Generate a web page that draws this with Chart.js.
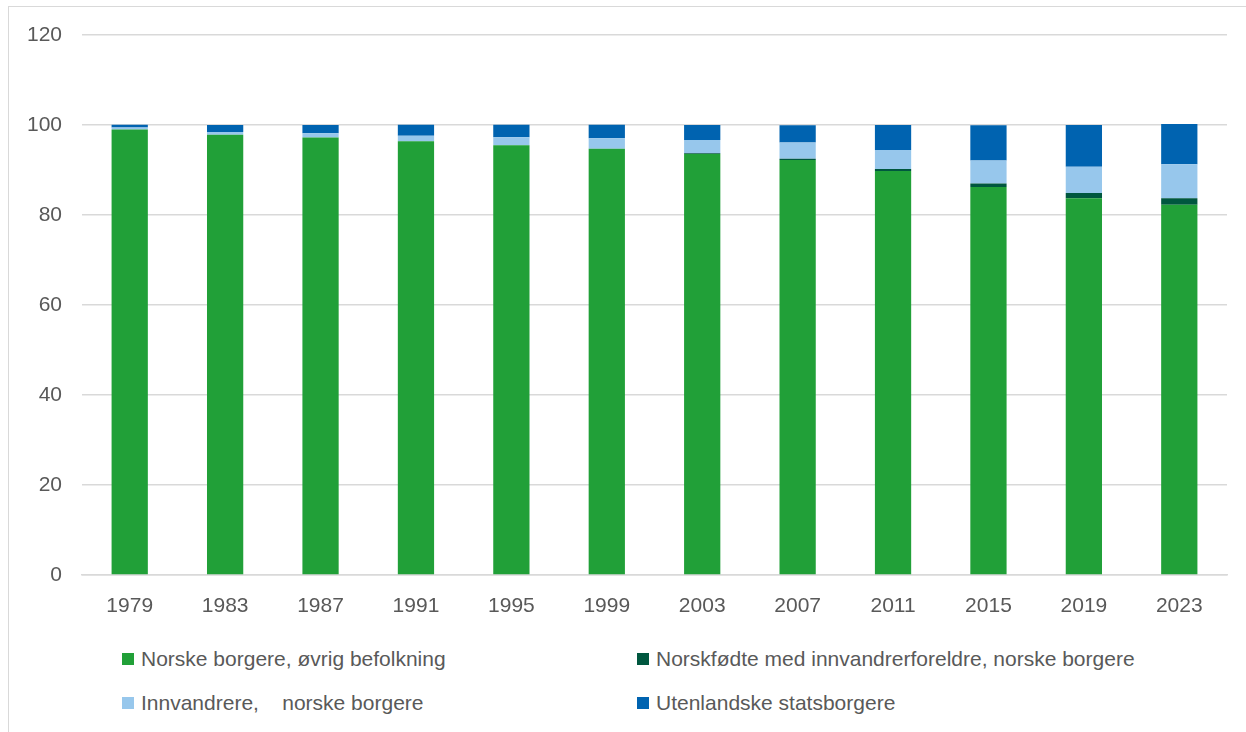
<!DOCTYPE html>
<html>
<head>
<meta charset="utf-8">
<script src="https://cdn.jsdelivr.net/npm/chart.js@4/dist/chart.umd.min.js"></script>
<style>
  html, body { margin: 0; padding: 0; background: #fff; }
  body { width: 1246px; height: 732px; position: relative; overflow: hidden; }
  #frame { position: absolute; left: 8px; top: 6px; width: 1250px; height: 740px; border: 1px solid #d9d9d9; box-sizing: border-box; }
  #wrap { position: absolute; left: 0; top: 0; width: 1246px; height: 640px; }
  .leg { position: absolute; font-family: "Liberation Sans", Arial, sans-serif; font-size: 21px; color: #595959; white-space: pre; line-height: 24px; }
  .leg .box { position: absolute; left: 0; top: 6px; width: 12px; height: 12px; }
  .leg .txt { position: absolute; left: 19px; top: 0; }
</style>
</head>
<body>
<div id="frame"></div>
<div id="wrap"><canvas id="c" width="1246" height="640"></canvas></div>
<div id="legend"></div>
<script>
const categories = ["1979","1983","1987","1991","1995","1999","2003","2007","2011","2015","2019","2023"];
const norskeOvrig   = [99.0, 97.85, 97.2, 96.4, 95.5, 94.7, 93.55, 92.2, 89.8, 86.2, 83.7, 82.3];
const norskfodte    = [0.0, 0.0, 0.0, 0.0, 0.0, 0.05, 0.2, 0.3, 0.45, 0.8, 1.2, 1.4];
const innvandrere   = [0.45, 0.6, 0.95, 1.2, 1.8, 2.3, 2.9, 3.6, 4.2, 5.1, 5.85, 7.6];
const utenlandske   = [0.6, 1.55, 1.85, 2.45, 2.75, 3.0, 3.35, 3.85, 5.55, 7.85, 9.25, 8.9];
const seriesNames = ["Norske borgere, øvrig befolkning", "Norskfødte med innvandrerforeldre, norske borgere", "Innvandrere,    norske borgere", "Utenlandske statsborgere"];
const yTicks = [0, 20, 40, 60, 80, 100, 120];

const colors = ["#21A038", "#00573F", "#97C7EC", "#0063B0"];
const seriesData = [norskeOvrig, norskfodte, innvandrere, utenlandske];

const ctx = document.getElementById('c');
new Chart(ctx, {
  type: 'bar',
  data: {
    labels: categories,
    datasets: seriesData.map((d, i) => ({
      label: seriesNames[i],
      data: d,
      backgroundColor: colors[i],
      borderWidth: 0,
      categoryPercentage: 1.0,
      barPercentage: 0.38
    }))
  },
  options: {
    responsive: false,
    animation: false,
    devicePixelRatio: 1,
    layout: { padding: { top: 35, right: 19, bottom: 15, left: 0 } },
    plugins: { legend: { display: false }, tooltip: { enabled: false } },
    scales: {
      x: {
        stacked: true,
        grid: { display: false, drawTicks: false },
        border: { display: true, color: '#d9d9d9', width: 1.5 },
        ticks: { color: '#595959', font: { family: '"Liberation Sans", Arial, sans-serif', size: 21 }, padding: 19 },
        afterFit: s => { s.height = 50; }
      },
      y: {
        stacked: true,
        min: 0, max: 120,
        afterBuildTicks: s => { s.ticks = yTicks.map(v => ({ value: v })); },
        grid: { color: '#d9d9d9', lineWidth: 1.5, drawTicks: false },
        border: { display: false },
        ticks: { color: '#595959', font: { family: '"Liberation Sans", Arial, sans-serif', size: 21 }, padding: 20 },
        afterFit: s => { s.width = 82; }
      }
    }
  }
});

// HTML legend, two columns
const legend = document.getElementById('legend');
const pos = [[122, 647], [637, 647], [122, 691], [637, 691]];
seriesNames.forEach((n, i) => {
  const el = document.createElement('div');
  el.className = 'leg';
  el.style.left = pos[i][0] + 'px';
  el.style.top = pos[i][1] + 'px';
  el.innerHTML = '<span class="box" style="background:' + colors[i] + '"></span><span class="txt"></span>';
  el.querySelector('.txt').textContent = n;
  legend.appendChild(el);
});
</script>
</body>
</html>
